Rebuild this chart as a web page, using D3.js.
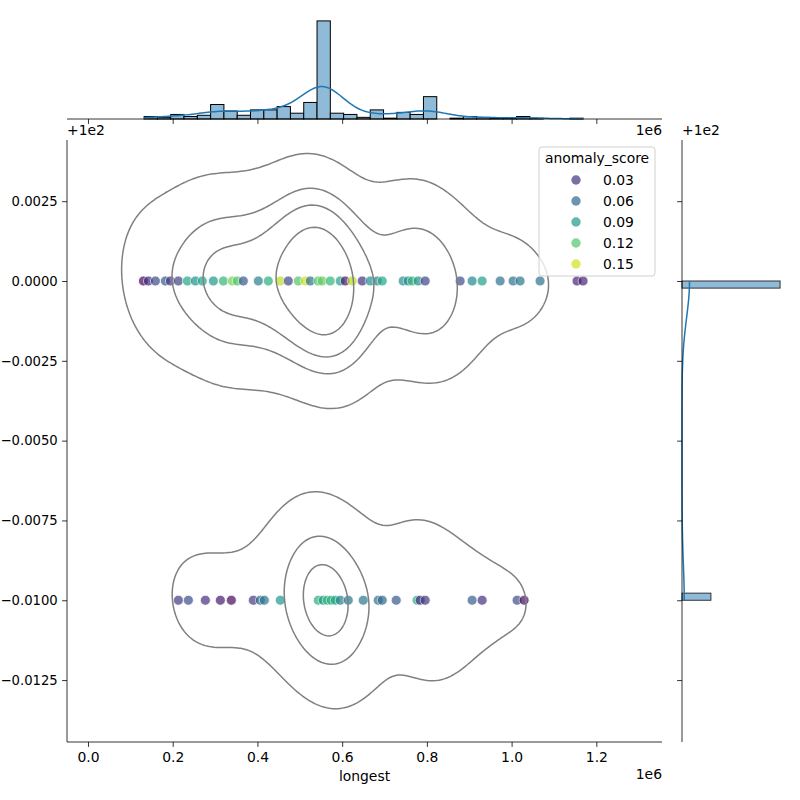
<!DOCTYPE html>
<html>
<head>
<meta charset="utf-8">
<script src="https://cdn.jsdelivr.net/npm/d3@7"></script>
<style>
body { margin: 0; background: #fff; }
text { font-family: "DejaVu Sans", sans-serif; font-size: 13.9px; fill: #000; }
</style>
</head>
<body>
<div id="chart"></div>
<script>
// histogram of "longest" (counts per bin)
const binStart = 132500;
const binWidth = 31400;
const binCounts = [6, 4, 11, 6, 9, 35, 19, 9, 22, 22, 30, 14, 40, 237, 14, 11, 4, 22, 2, 16, 11, 54, 0, 2, 6, 4, 2, 2, 6, 2, 0, 0, 2];
// how many of each bin sit in the lower row
const lowerCounts = [0, 0, 2, 2, 2, 2, 2, 0, 4, 0, 4, 2, 8, 56, 12, 6, 4, 2, 2, 2, 4, 16, 0, 0, 3, 3, 0, 0, 4, 0, 0, 0, 0];
const rowValues = [100.0, 99.99];
const yBinCount = 45;

// visible scatter points
const upperX = [130900, 142700, 159200, 182800, 194600, 213400, 234700, 253500, 270000, 296000, 319600, 340800, 352600, 366700, 402100, 425700, 454000, 472900, 496500, 513000, 524800, 543600, 553000, 571900, 595500, 607300, 623800, 647400, 666300, 682800, 694600, 744100, 755900, 765300, 779400, 796000, 878500, 906800, 930400, 972900, 1003500, 1020000, 1067200, 1154500, 1168700];
const upperScore = [0.012, 0.03, 0.045, 0.05, 0.035, 0.04, 0.10, 0.085, 0.10, 0.09, 0.11, 0.13, 0.12, 0.05, 0.075, 0.105, 0.145, 0.04, 0.12, 0.15, 0.065, 0.12, 0.125, 0.11, 0.095, 0.02, 0.145, 0.03, 0.085, 0.075, 0.10, 0.085, 0.08, 0.11, 0.085, 0.04, 0.045, 0.08, 0.095, 0.065, 0.065, 0.07, 0.065, 0.025, 0.025];
const lowerX = [213400, 237000, 277100, 312500, 338400, 390300, 406800, 416300, 454000, 543600, 555400, 564900, 574300, 583700, 595500, 614400, 649800, 685100, 694600, 727600, 777000, 784200, 796000, 906800, 930400, 1013000, 1029500];
const lowerScore = [0.035, 0.045, 0.03, 0.02, 0.012, 0.035, 0.06, 0.07, 0.09, 0.105, 0.09, 0.11, 0.105, 0.10, 0.075, 0.07, 0.07, 0.065, 0.06, 0.05, 0.10, 0.03, 0.035, 0.055, 0.03, 0.045, 0.015];

const xTicks = [0, 200000, 400000, 600000, 800000, 1000000, 1200000];
const yTicks = [0.0025, 0, -0.0025, -0.005, -0.0075, -0.01, -0.0125];
const legendScores = [0.03, 0.06, 0.09, 0.12, 0.15];

const W = 800, H = 800;
const main = {left: 67, right: 662, top: 140, bottom: 742};
const margTop = {top: 16, bottom: 119};
const margRight = {left: 682, right: 785};

const svg = d3.select("#chart").append("svg")
    .attr("width", W)
    .attr("height", H);

const x = d3.scaleLinear().domain([-49500, 1355000]).range([main.left, main.right]);
const y = d3.scaleLinear().domain([-0.01444, 0.004417]).range([main.bottom, main.top]);
const color = d3.scaleSequential(d3.interpolateViridis).domain([0.009, 0.161]);

// samples: bin centres with weights, one per row
let samples = [];
binCounts.forEach(function (c, i) {
    const xc = binStart + (i + 0.5) * binWidth;
    const lo = lowerCounts[i];
    if (c - lo > 0) samples.push({x: xc, y: rowValues[0] - 100, w: c - lo});
    if (lo > 0) samples.push({x: xc, y: rowValues[1] - 100, w: lo});
});
const n = d3.sum(samples, d => d.w);
const mx = d3.sum(samples, d => d.w * d.x) / n;
const my = d3.sum(samples, d => d.w * d.y) / n;
const cxx = d3.sum(samples, d => d.w * (d.x - mx) * (d.x - mx)) / (n - 1);
const cyy = d3.sum(samples, d => d.w * (d.y - my) * (d.y - my)) / (n - 1);
const cxy = d3.sum(samples, d => d.w * (d.x - mx) * (d.y - my)) / (n - 1);

// 2d gaussian kde, scott factor
const f2 = Math.pow(n, -1 / 6);
const kxx = cxx * f2 * f2, kyy = cyy * f2 * f2, kxy = cxy * f2 * f2;
const det = kxx * kyy - kxy * kxy;
const ixx = kyy / det, iyy = kxx / det, ixy = -kxy / det;
const xMin = binStart, xMax = binStart + binCounts.length * binWidth;
const yMin = rowValues[1] - 100, yMax = rowValues[0] - 100;
const G = 200;
const gx0 = xMin - 3 * Math.sqrt(kxx), gx1 = xMax + 3 * Math.sqrt(kxx);
const gy0 = yMin - 3 * Math.sqrt(kyy), gy1 = yMax + 3 * Math.sqrt(kyy);
const gdx = (gx1 - gx0) / (G - 1), gdy = (gy1 - gy0) / (G - 1);
const dens = new Float64Array(G * G);
for (let j = 0; j < G; j++) {
    const gy = gy0 + j * gdy;
    for (let i = 0; i < G; i++) {
        const gx = gx0 + i * gdx;
        let s = 0;
        samples.forEach(function (d) {
            const dx = gx - d.x, dy = gy - d.y;
            s += d.w * Math.exp(-0.5 * (dx * dx * ixx + 2 * dx * dy * ixy + dy * dy * iyy));
        });
        dens[i + j * G] = s;
    }
}
// iso-proportion levels (5 levels from thresh)
const thresh = 0.05;
const sorted = Array.from(dens).sort((a, b) => b - a);
const total = d3.sum(sorted);
let cum = [], acc = 0;
sorted.forEach(v => { acc += v; cum.push(acc / total); });
const levels = d3.range(4).map(k => thresh + k * (1 - thresh) / 4).map(function (q) {
    const idx = d3.bisectLeft(cum, 1 - q);
    return sorted[Math.min(idx, sorted.length - 1)];
});
const contours = d3.contours().size([G, G]).thresholds(levels)(Array.from(dens));
const proj = d3.geoTransform({
    point: function (cx, cy) {
        this.stream.point(x(gx0 + (cx - 0.5) * gdx), y(gy0 + (cy - 0.5) * gdy));
    }
});

svg.append("clipPath").attr("id", "clipMain")
    .append("rect")
    .attr("x", main.left).attr("y", main.top)
    .attr("width", main.right - main.left).attr("height", main.bottom - main.top);

// scatter
const pts = [];
upperX.forEach((v, i) => pts.push({x: v, y: rowValues[0] - 100, s: upperScore[i]}));
lowerX.forEach((v, i) => pts.push({x: v, y: rowValues[1] - 100, s: lowerScore[i]}));
svg.append("g").selectAll("circle")
    .data(pts)
    .enter().append("circle")
    .attr("cx", d => x(d.x))
    .attr("cy", d => y(d.y))
    .attr("r", 5)
    .attr("fill", d => color(d.s))
    .attr("stroke", "#fff")
    .attr("stroke-width", 0.8)
    .attr("opacity", 0.7);

svg.append("g")
    .attr("clip-path", "url(#clipMain)")
    .selectAll("path")
    .data(contours)
    .enter().append("path")
    .attr("d", d3.geoPath(proj))
    .attr("fill", "none")
    .attr("stroke", "#808080")
    .attr("stroke-width", 1.5);

// main axes
const xAxis = svg.append("g")
    .attr("transform", "translate(0," + main.bottom + ")")
    .call(d3.axisBottom(x).tickValues(xTicks).tickSize(4.9).tickPadding(4.9)
        .tickFormat(d => (d / 1e6).toFixed(1)));
const yAxis = svg.append("g")
    .attr("transform", "translate(" + main.left + ",0)")
    .call(d3.axisLeft(y).tickValues(yTicks).tickSize(4.9).tickPadding(4.4)
        .tickFormat(d => (d < 0 ? "\u2212" : "") + Math.abs(d).toFixed(4)));
[xAxis, yAxis].forEach(function (a) {
    a.attr("font-size", null).attr("font-family", null);
    a.select(".domain").attr("d", null);
    a.selectAll("line").attr("stroke", "#000").attr("stroke-width", 0.8);
});
yAxis.selectAll("text").style("font-size", "13.2px");
svg.append("line").attr("x1", main.left).attr("x2", main.right)
    .attr("y1", main.bottom).attr("y2", main.bottom).attr("stroke", "#000").attr("stroke-width", 0.8);
svg.append("line").attr("x1", main.left).attr("x2", main.left)
    .attr("y1", main.top).attr("y2", main.bottom).attr("stroke", "#000").attr("stroke-width", 0.8);

svg.append("text").attr("x", (main.left + main.right) / 2).attr("y", 781)
    .attr("text-anchor", "middle").text("longest");
svg.append("text").attr("x", main.right).attr("y", 779)
    .attr("text-anchor", "end").text("1e6");
svg.append("text").attr("x", main.left).attr("y", 135).text("+1e2");

// top marginal histogram
const hy = d3.scaleLinear().domain([0, d3.max(binCounts) * 1.05]).range([margTop.bottom, margTop.top]);
svg.append("g").selectAll("rect")
    .data(binCounts)
    .enter().append("rect")
    .attr("x", (d, i) => x(binStart + i * binWidth))
    .attr("width", x(binWidth) - x(0))
    .attr("y", d => hy(d))
    .attr("height", d => hy(0) - hy(d))
    .attr("fill", "#8fbbd9")
    .attr("stroke", d => d > 0 ? "#000" : "none")
    .attr("stroke-width", 1);

const bwx = Math.pow(n, -1 / 5) * Math.sqrt(cxx);
const kdeX = d3.range(200).map(function (k) {
    const xv = xMin + k * (xMax - xMin) / 199;
    let s = 0;
    samples.forEach(d => { s += d.w * Math.exp(-0.5 * Math.pow((xv - d.x) / bwx, 2)); });
    return {x: xv, v: s / (bwx * Math.sqrt(2 * Math.PI)) * binWidth};
});
svg.append("path")
    .datum(kdeX)
    .attr("fill", "none")
    .attr("stroke", "#1f77b4")
    .attr("stroke-width", 1.5)
    .attr("d", d3.line().x(d => x(d.x)).y(d => hy(d.v)));

const topAxis = svg.append("g")
    .attr("transform", "translate(0," + margTop.bottom + ")")
    .call(d3.axisBottom(x).tickValues(xTicks).tickSize(4.9).tickFormat(""));
topAxis.select(".domain").attr("d", null);
topAxis.selectAll("line").attr("stroke", "#000").attr("stroke-width", 0.8);
svg.append("line").attr("x1", main.left).attr("x2", main.right)
    .attr("y1", margTop.bottom).attr("y2", margTop.bottom).attr("stroke", "#000").attr("stroke-width", 0.8);
svg.append("text").attr("x", main.right).attr("y", 135)
    .attr("text-anchor", "end").text("1e6");

// right marginal histogram
const yBinW = (rowValues[0] - rowValues[1]) / yBinCount;
const yCounts = new Array(yBinCount).fill(0);
samples.forEach(function (d) {
    const k = Math.min(yBinCount - 1, Math.floor((d.y - yMin) / yBinW + 1e-9));
    yCounts[k] += d.w;
});
const hx = d3.scaleLinear().domain([0, d3.max(yCounts) * 1.05]).range([margRight.left, margRight.right]);
svg.append("g").selectAll("rect")
    .data(yCounts.map((c, k) => ({c: c, k: k})).filter(d => d.c > 0))
    .enter().append("rect")
    .attr("x", hx(0))
    .attr("width", d => hx(d.c) - hx(0))
    .attr("y", d => y(yMin + (d.k + 1) * yBinW))
    .attr("height", d => y(yMin + d.k * yBinW) - y(yMin + (d.k + 1) * yBinW))
    .attr("fill", "#8fbbd9")
    .attr("stroke", "#333")
    .attr("stroke-width", 1);

const bwy = Math.pow(n, -1 / 5) * Math.sqrt(cyy);
const kdeY = d3.range(200).map(function (k) {
    const yv = yMin + k * (yMax - yMin) / 199;
    let s = 0;
    samples.forEach(d => { s += d.w * Math.exp(-0.5 * Math.pow((yv - d.y) / bwy, 2)); });
    return {y: yv, v: s / (bwy * Math.sqrt(2 * Math.PI)) * yBinW};
});
svg.append("path")
    .datum(kdeY)
    .attr("fill", "none")
    .attr("stroke", "#1f77b4")
    .attr("stroke-width", 1.5)
    .attr("d", d3.line().x(d => hx(d.v)).y(d => y(d.y)));

const rightAxis = svg.append("g")
    .attr("transform", "translate(" + margRight.left + ",0)")
    .call(d3.axisLeft(y).tickValues(yTicks).tickSize(4.9).tickFormat(""));
rightAxis.select(".domain").attr("d", null);
rightAxis.selectAll("line").attr("stroke", "#000").attr("stroke-width", 0.8);
svg.append("line").attr("x1", margRight.left).attr("x2", margRight.left)
    .attr("y1", main.top).attr("y2", main.bottom).attr("stroke", "#000").attr("stroke-width", 0.8);
svg.append("text").attr("x", margRight.left).attr("y", 135).text("+1e2");

// legend
const lg = svg.append("g").attr("transform", "translate(539,147)");
lg.append("rect")
    .attr("width", 116).attr("height", 129)
    .attr("rx", 3)
    .attr("fill", "#fff").attr("fill-opacity", 0.8)
    .attr("stroke", "#d0d0d0").attr("stroke-width", 1);
lg.append("text").attr("x", 58).attr("y", 16).attr("text-anchor", "middle").text("anomaly_score");
legendScores.forEach(function (s, i) {
    const cy = 33 + i * 21;
    lg.append("circle").attr("cx", 37).attr("cy", cy).attr("r", 4.7)
        .attr("fill", color(s)).attr("opacity", 0.7);
    lg.append("text").attr("x", 64).attr("y", cy + 5).text(s.toFixed(2));
});
</script>
</body>
</html>
